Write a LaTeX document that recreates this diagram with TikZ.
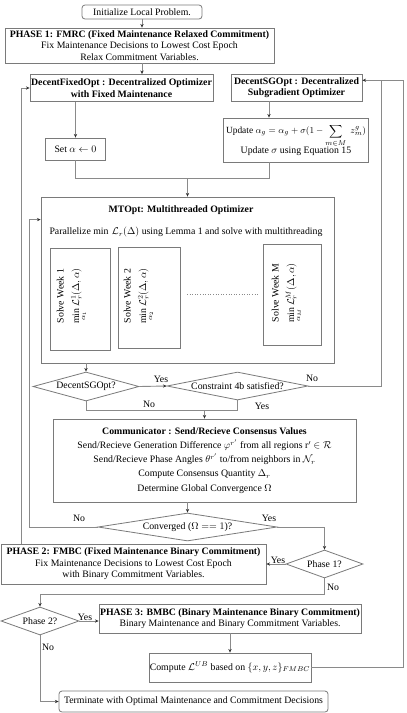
\documentclass[tikz,border=0pt]{standalone}
\usepackage{fontspec}
\setmainfont{Liberation Serif}
\usepackage{amsmath}
\usetikzlibrary{shapes.geometric,arrows.meta,calc}
\definecolor{boxgray}{HTML}{7A7A7A}
\definecolor{linegray}{HTML}{8A8A8A}
\definecolor{tipgray}{HTML}{303030}
\tikzset{
  box/.style={draw=boxgray, line width=0.8pt, rectangle, inner sep=0pt, align=center, fill=white},
  dia/.style={draw=boxgray, line width=0.8pt, diamond, inner sep=0pt, align=center, fill=white},
  conn/.style={draw=linegray, line width=0.9pt},
  arr/.style={conn, -{Stealth[length=3.6pt,width=3.2pt,tipgray]}},
  lbl/.style={inner sep=1pt},
  wtext/.style={rotate=90, align=center, inner sep=0pt}
}
\begin{document}
\begin{tikzpicture}[x=1pt,y=-1pt, font=\fontsize{9.8}{11.6}\selectfont]
\fill[white] (0,0) rectangle (407,713);
\useasboundingbox (0,0) rectangle (407,713);

% nodes
\node[box, rounded corners=3pt, minimum width=120pt, minimum height=14pt] (init) at (142,12) {Initialize Local Problem.};
\node[box, minimum width=269pt, minimum height=35pt] (ph1) at (139.5,45.5)
  {\textbf{PHASE 1: FMRC (Fixed Maintenance Relaxed Commitment)}\\Fix Maintenance Decisions to Lowest Cost Epoch\\Relax Commitment Variables.};
\node[box, minimum width=183pt, minimum height=27pt] (dfo) at (121.5,88)
  {\textbf{DecentFixedOpt : Decentralized Optimizer}\\\textbf{with Fixed Maintenance}};
\node[box, minimum width=131pt, minimum height=27pt] (dsg) at (296.5,87.5)
  {\textbf{DecentSGOpt : Decentralized}\\\textbf{Subgradient Optimizer}};
\node[box, minimum width=60pt, minimum height=22pt] (seta) at (75.5,149) {Set $\alpha \leftarrow 0$};
\node[box, minimum width=145pt, minimum height=44pt] (upd) at (296,140)
  {\fontsize{9.4}{11}\selectfont Update $\alpha_g = \alpha_g + \sigma(1-\displaystyle\sum\limits_{m\in M}\; z_m^g)$\\[-1pt]Update $\sigma$ using Equation 15};

\node[box, minimum width=293pt, minimum height=166pt] (mt) at (187.5,280) {};
\node[inner sep=0pt] (mttitle) at (181,210) {\textbf{MTOpt: Multithreaded Optimizer}};
\node[inner sep=0pt] (mtpar) at (186,232) {Parallelize $\min\,\mathcal{L}_r(\Delta)$ using Lemma 1 and solve with multithreading};

\node[box, minimum width=60pt, minimum height=102pt] (w1) at (80,299) {};
\node[box, minimum width=62pt, minimum height=101pt] (w2) at (149,297.5) {};
\node[box, minimum width=58pt, minimum height=101pt] (wM) at (292,294.5) {};
\node[wtext] (w1t) at (72,296) {Solve Week 1\\[4pt]$\min\limits_{\alpha_1}\mathcal{L}^1_r(\Delta,\alpha)$};
\node[wtext] (w2t) at (139,296) {Solve Week 2\\[4pt]$\min\limits_{\alpha_2}\mathcal{L}^2_r(\Delta,\alpha)$};
\node[wtext] (wMt) at (287,293) {Solve Week M\\[4pt]$\min\limits_{\alpha_M}\mathcal{L}^M_r(\Delta,\alpha)$};
\coordinate (dotL) at (187,294);
\coordinate (dotR) at (258,294);
\draw[linegray, line width=0.6pt, dotted] (dotL) -- (dotR);

\node[dia, aspect=3.6, minimum width=106pt, minimum height=29pt] (d1) at (86,386.5) {DecentSGOpt?};
\node[dia, aspect=5, minimum width=141pt, minimum height=28pt] (d2) at (237.5,386) {Constraint 4b satisfied?};

\node[box, minimum width=303pt, minimum height=83pt] (comm) at (204.5,460.5)
  {\textbf{Communicator : Send/Recieve Consensus Values}\\[2.5pt]
   Send/Recieve Generation Difference $\varphi^{r'}$ from all regions r$'$ $\in \mathcal{R}$\\[2.5pt]
   Send/Recieve Phase Angles $\theta^{r'}$ to/from neighbors in $\mathcal{N}_r$\\[2.5pt]
   Compute Consensus Quantity $\Delta_r$\\[2.5pt]
   Determine Global Convergence $\Omega$};

\node[dia, aspect=6.4, minimum width=179pt, minimum height=28pt] (conv) at (187.5,527) {Converged ($\Omega \mathrel{==} 1$)?};
\node[dia, aspect=2.75, minimum width=77pt, minimum height=28pt] (p1q) at (324.5,564) {Phase 1?};
\node[box, minimum width=265pt, minimum height=40pt] (ph2) at (133.5,564)
  {\textbf{PHASE 2: FMBC (Fixed Maintenance Binary Commitment)}\\Fix Maintenance Decisions to Lowest Cost Epoch\\with Binary Commitment Variables.};
\node[dia, aspect=2.75, minimum width=78pt, minimum height=28pt] (p2q) at (40,621) {Phase 2?};
\node[box, minimum width=262pt, minimum height=29pt] (ph3) at (230,618.5)
  {\textbf{PHASE 3: BMBC (Binary Maintenance Binary Commitment)}\\Binary Maintenance and Binary Commitment Variables.};
\node[box, minimum width=162pt, minimum height=29pt] (comp) at (230,667.5)
  {Compute $\mathcal{L}^{UB}$ based on $\{x,y,z\}_{FMBC}$};
\node[box, rounded corners=3pt, minimum width=269pt, minimum height=21pt] (term) at (193.5,701.5)
  {Terminate with Optimal Maintenance and Commitment Decisions};

% helper coordinates
\coordinate (Lout) at (21,0);
\coordinate (Lin) at (29,0);
\coordinate (Rin) at (381,0);
\coordinate (Rout) at (403,0);
\coordinate (jy) at (0,178);
\coordinate (ky) at (0,410);
\coordinate (my) at (0,594);
\coordinate (dsgR) at ($(dsg.north east)!0.24!(dsg.south east)$);
\coordinate (updT) at ($(dsg.south)+(-27.5,0)$);
\coordinate (updB) at ($(upd.south)+(-27,0)$);
\coordinate (mtL) at ($(mt.north west)+(0,23)$);

% connectors
\draw[arr] (init.south) -- (init.south |- ph1.north);
\draw[arr] (init.south |- ph1.south) -- (init.south |- dfo.north);
\draw[arr] (seta.north |- dfo.south) -- (seta.north);
\draw[arr] (updT) -- (updT |- upd.north);
\draw[conn] (seta.south) |- (updB |- jy) -- (updB);
\draw[arr] (mt.north |- jy) -- (mt.north);
\draw[arr] (d1.north |- mt.south) -- (d1.north);
\draw[arr] (d1.east) -- (d2.west);
\draw[conn] (d2.east) -| (Rin |- dsgR);
\draw[conn] (d1.south) |- (d2.south |- ky) -- (d2.south);
\draw[arr] (comm.north |- ky) -- (comm.north);
\draw[arr] (conv.north |- comm.south) -- (conv.north);
\draw[arr] (conv.west) -| (Lin |- mtL) -- (mtL);
\draw[arr] (conv.east) -| (p1q.north);
\draw[arr] (p1q.west) -- (ph2.east);
\draw[arr] (Lout |- ph2.north) -- (Lout |- dfo.west) -- (dfo.west);
\draw[arr] (p1q.south) |- (p2q.north |- my) -- (p2q.north);
\draw[arr] (p2q.east) -- (p2q.east -| ph3.west);
\draw[arr] (ph3.south) -- (comp.north);
\draw[arr] (comp.east) -| (Rout |- dsgR) -- (dsgR);
\draw[arr] (p2q.south) |- (term.west);

% labels
\node[lbl] (lyes1) at (161,379) {Yes};
\node[lbl] (lno1) at (312,378) {No};
\node[lbl] (lno2) at (149,404) {No};
\node[lbl] (lyes2) at (262,406) {Yes};
\node[lbl] (lno3) at (79,518) {No};
\node[lbl] (lyes3) at (269,518) {Yes};
\node[lbl] (lyes4) at (278,560) {Yes};
\node[lbl] (lno4) at (333,587) {No};
\node[lbl] (lyes5) at (85,617) {Yes};
\node[lbl] (lno5) at (48,647) {No};
\end{tikzpicture}
\end{document}
